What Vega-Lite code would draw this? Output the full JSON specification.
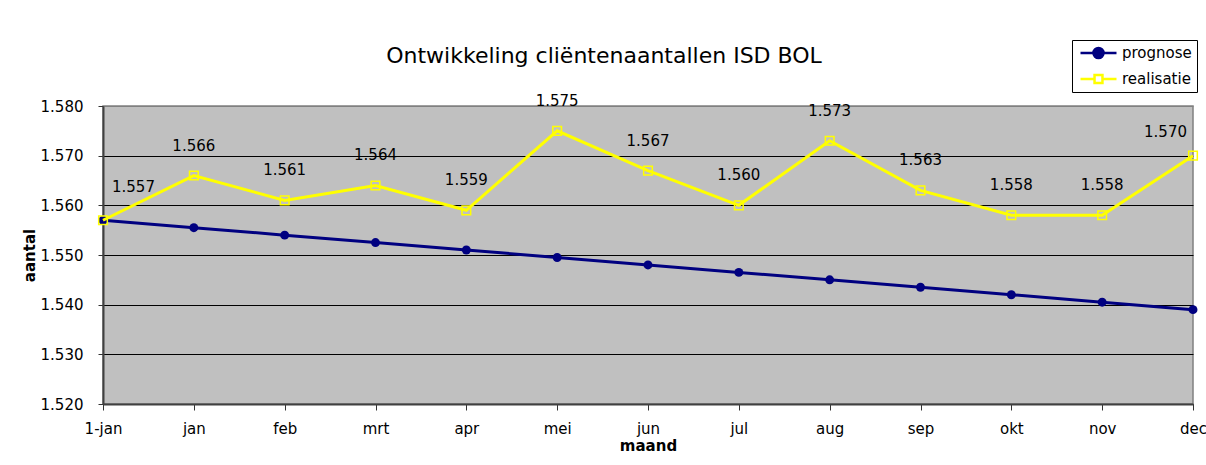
{
  "$schema": "https://vega.github.io/schema/vega-lite/v6.json",
  "width": 1090,
  "height": 298,
  "autosize": {"type": "none"},
  "padding": {"left": 103, "top": 106, "right": 13, "bottom": 61},
  "background": "white",
  "config": {
    "locale": {"number": {"decimal": ",", "thousands": ".", "grouping": [3], "currency": ["€ ", ""]}},
    "font": "DejaVu Sans",
    "view": {"fill": "#C0C0C0", "stroke": "#808080", "strokeWidth": 1.5}
  },
  "title": {
    "text": "Ontwikkeling cliëntenaantallen ISD BOL",
    "fontSize": 22,
    "fontWeight": "normal",
    "color": "black",
    "anchor": "middle",
    "frame": "group",
    "dx": -44,
    "baseline": "alphabetic",
    "offset": -45
  },
  "data": {
    "values": [
      {"maand": "1-jan", "serie": "prognose", "aantal": 1557},
      {"maand": "jan", "serie": "prognose", "aantal": 1555.5},
      {"maand": "feb", "serie": "prognose", "aantal": 1554},
      {"maand": "mrt", "serie": "prognose", "aantal": 1552.5},
      {"maand": "apr", "serie": "prognose", "aantal": 1551},
      {"maand": "mei", "serie": "prognose", "aantal": 1549.5},
      {"maand": "jun", "serie": "prognose", "aantal": 1548},
      {"maand": "jul", "serie": "prognose", "aantal": 1546.5},
      {"maand": "aug", "serie": "prognose", "aantal": 1545},
      {"maand": "sep", "serie": "prognose", "aantal": 1543.5},
      {"maand": "okt", "serie": "prognose", "aantal": 1542},
      {"maand": "nov", "serie": "prognose", "aantal": 1540.5},
      {"maand": "dec", "serie": "prognose", "aantal": 1539},
      {"maand": "1-jan", "serie": "realisatie", "aantal": 1557},
      {"maand": "jan", "serie": "realisatie", "aantal": 1566},
      {"maand": "feb", "serie": "realisatie", "aantal": 1561},
      {"maand": "mrt", "serie": "realisatie", "aantal": 1564},
      {"maand": "apr", "serie": "realisatie", "aantal": 1559},
      {"maand": "mei", "serie": "realisatie", "aantal": 1575},
      {"maand": "jun", "serie": "realisatie", "aantal": 1567},
      {"maand": "jul", "serie": "realisatie", "aantal": 1560},
      {"maand": "aug", "serie": "realisatie", "aantal": 1573},
      {"maand": "sep", "serie": "realisatie", "aantal": 1563},
      {"maand": "okt", "serie": "realisatie", "aantal": 1558},
      {"maand": "nov", "serie": "realisatie", "aantal": 1558},
      {"maand": "dec", "serie": "realisatie", "aantal": 1570}
    ]
  },
  "encoding": {
    "x": {
      "field": "maand",
      "type": "ordinal",
      "sort": ["1-jan", "jan", "feb", "mrt", "apr", "mei", "jun", "jul", "aug", "sep", "okt", "nov", "dec"],
      "scale": {"type": "point", "padding": 0},
      "axis": {
        "title": "maand",
        "titleFontSize": 15,
        "titleFontWeight": "bold",
        "titleColor": "black",
        "titlePadding": 2,
        "labelAngle": 0,
        "labelFontSize": 15,
        "labelColor": "black",
        "labelPadding": 11,
        "labelOverlap": false,
        "labelFlush": false,
        "tickSize": 6,
        "tickColor": "#333333",
        "domainColor": "#404040",
        "domainWidth": 2,
        "grid": false
      }
    },
    "y": {
      "field": "aantal",
      "type": "quantitative",
      "scale": {"domain": [1520, 1580], "zero": false, "nice": false},
      "axis": {
        "title": "aantal",
        "titleFontSize": 15,
        "titleFontWeight": "bold",
        "titleColor": "black",
        "titlePadding": 3,
        "values": [1520, 1530, 1540, 1550, 1560, 1570, 1580],
        "format": ",d",
        "labelFontSize": 15,
        "labelColor": "black",
        "labelPadding": 15,
        "tickSize": 5,
        "tickColor": "#333333",
        "domainColor": "#404040",
        "domainWidth": 2,
        "grid": true,
        "gridColor": {"condition": {"test": "datum.value === 1580", "value": "#808080"}, "value": "black"},
        "gridWidth": 1,
        "gridOpacity": 1
      }
    }
  },
  "layer": [
    {
      "transform": [{"filter": "datum.serie === 'prognose'"}],
      "mark": {"type": "line", "strokeWidth": 3},
      "encoding": {
        "color": {
          "field": "serie",
          "type": "nominal",
          "scale": {"domain": ["prognose", "realisatie"], "range": ["#000080", "#FFFF00"]},
          "legend": {
            "title": null,
            "orient": "none",
            "legendX": 969,
            "legendY": -66,
            "fillColor": "white",
            "strokeColor": "black",
            "padding": 5,
            "labelFontSize": 15,
            "labelColor": "black",
            "labelOffset": 4,
            "rowPadding": 10,
            "clipHeight": 16,
            "symbolSize": 1296,
            "symbolOffset": 2,
            "symbolStrokeWidth": 2.5,
            "encode": {
              "symbols": {
                "update": {
                  "shape": {"signal": "datum.value === 'prognose' ? 'M-1,0L1,0M-0.28,0A0.28,0.28 0 1,1 0.28,0A0.28,0.28 0 1,1 -0.28,0Z' : 'M-1,0L-0.22,0M0.22,0L1,0M-0.22,-0.22L0.22,-0.22L0.22,0.22L-0.22,0.22Z'"},
                  "fill": {"signal": "datum.value === 'prognose' ? '#000080' : 'transparent'"},
                  "stroke": {"signal": "datum.value === 'prognose' ? '#000080' : '#FFFF00'"},
                  "opacity": {"value": 1}
                }
              }
            }
          }
        }
      }
    },
    {
      "transform": [{"filter": "datum.serie === 'prognose'"}],
      "mark": {"type": "point", "shape": "circle", "filled": true, "size": 80, "color": "#000080", "opacity": 1}
    },
    {
      "transform": [{"filter": "datum.serie === 'realisatie'"}],
      "mark": {"type": "line", "strokeWidth": 3, "color": "#FFFF00"},
      "encoding": {"color": {"field": "serie", "type": "nominal"}}
    },
    {
      "transform": [{"filter": "datum.serie === 'realisatie'"}],
      "mark": {"type": "point", "shape": "square", "filled": false, "size": 75, "stroke": "#FFFF00", "strokeWidth": 1.5, "opacity": 1}
    },
    {
      "transform": [{"filter": "datum.serie === 'realisatie' && datum.maand !== '1-jan' && datum.maand !== 'dec'"}],
      "mark": {"type": "text", "fontSize": 15, "color": "black", "baseline": "alphabetic", "align": "center", "dy": -25},
      "encoding": {"text": {"field": "aantal", "type": "quantitative", "format": ",d"}}
    },
    {
      "transform": [{"filter": "datum.serie === 'realisatie' && datum.maand === '1-jan'"}],
      "mark": {"type": "text", "fontSize": 15, "color": "black", "baseline": "alphabetic", "align": "left", "dx": 9, "dy": -28},
      "encoding": {"text": {"field": "aantal", "type": "quantitative", "format": ",d"}}
    },
    {
      "transform": [{"filter": "datum.serie === 'realisatie' && datum.maand === 'dec'"}],
      "mark": {"type": "text", "fontSize": 15, "color": "black", "baseline": "alphabetic", "align": "right", "dx": -6, "dy": -19},
      "encoding": {"text": {"field": "aantal", "type": "quantitative", "format": ",d"}}
    }
  ]
}
